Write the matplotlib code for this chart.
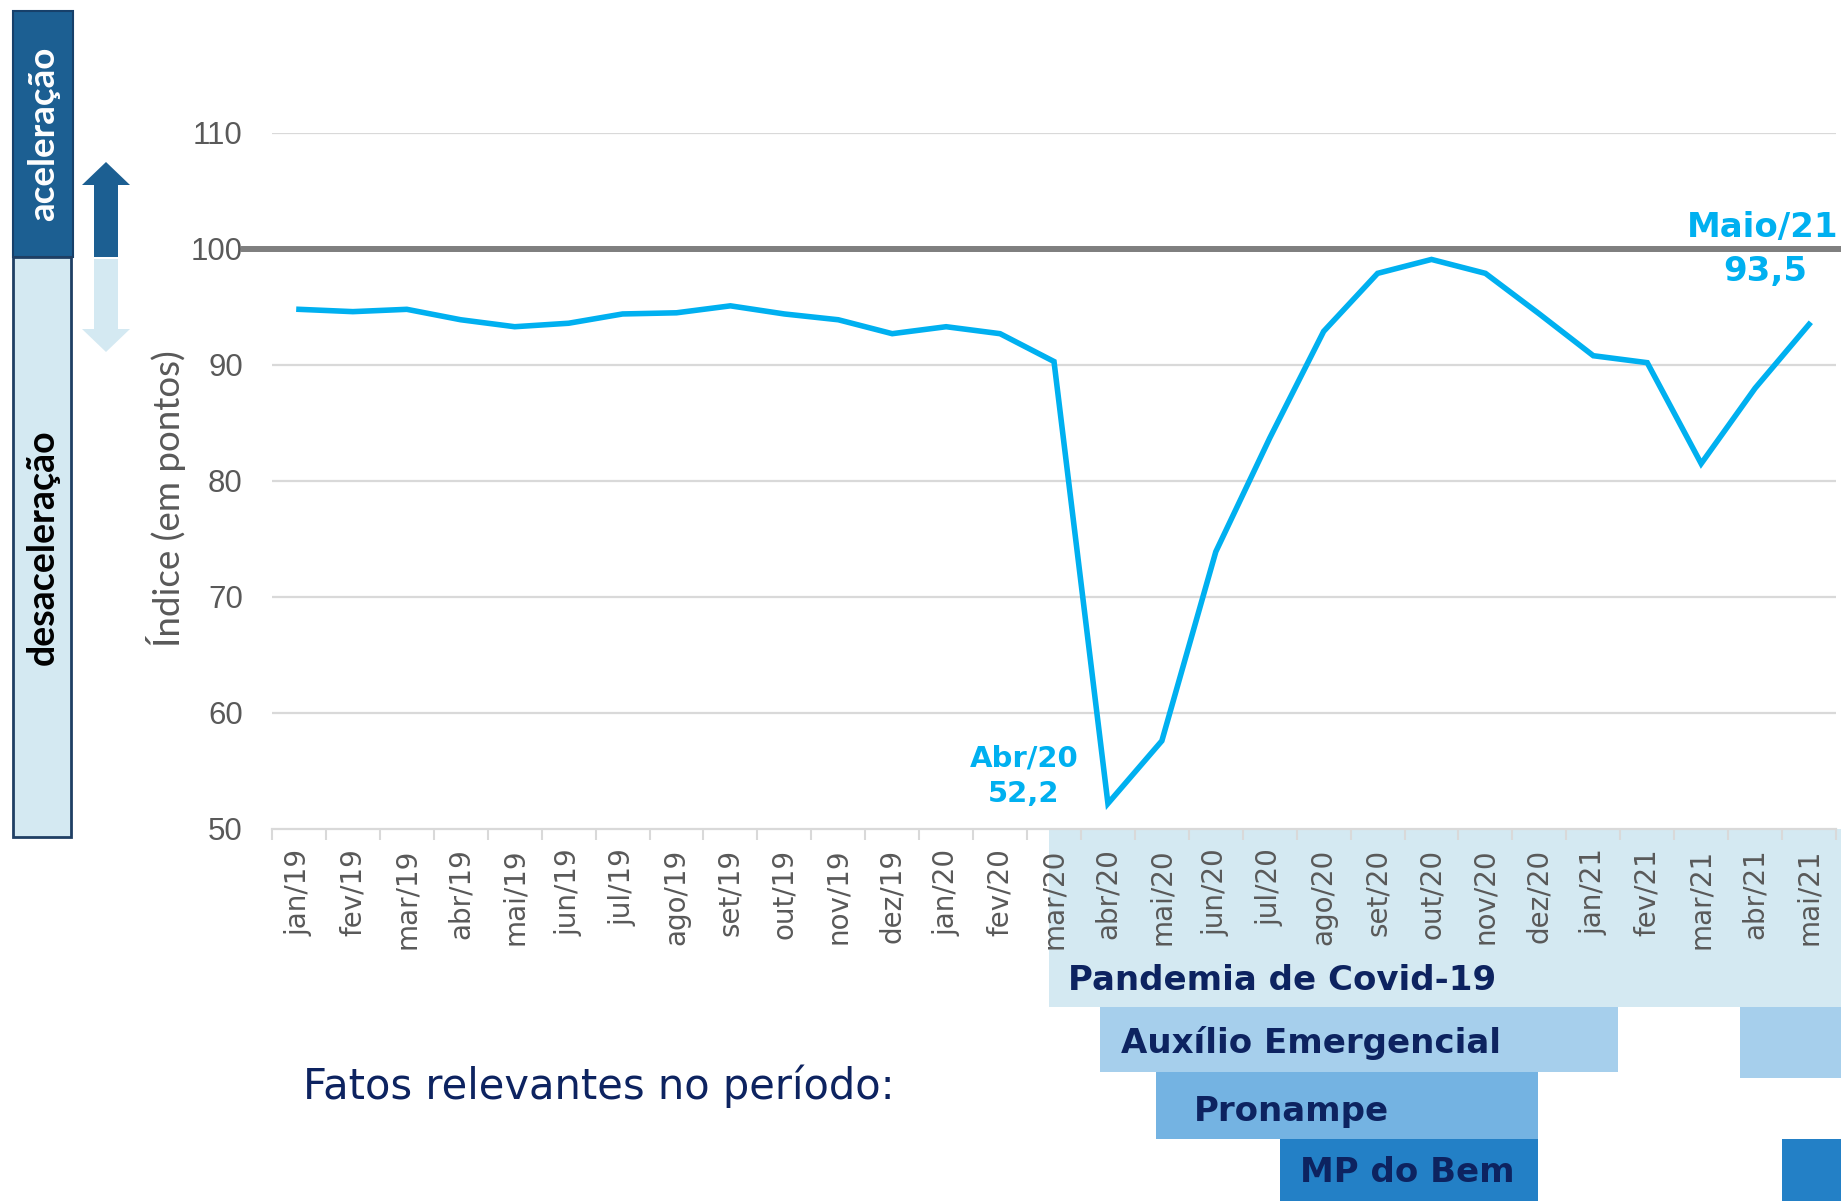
import matplotlib
matplotlib.use("Agg")
import matplotlib.pyplot as plt
import matplotlib.transforms as mtransforms
from matplotlib.patches import Rectangle, Polygon

# ---------------- data ----------------
months = ["jan/19", "fev/19", "mar/19", "abr/19", "mai/19", "jun/19", "jul/19", "ago/19",
          "set/19", "out/19", "nov/19", "dez/19", "jan/20", "fev/20", "mar/20", "abr/20",
          "mai/20", "jun/20", "jul/20", "ago/20", "set/20", "out/20", "nov/20", "dez/20",
          "jan/21", "fev/21", "mar/21", "abr/21", "mai/21"]
values = [94.8, 94.6, 94.8, 93.9, 93.3, 93.6, 94.4, 94.5,
          95.1, 94.4, 93.9, 92.7, 93.3, 92.7, 90.3, 52.2,
          57.6, 73.9, 83.7, 92.9, 97.9, 99.1, 97.9, 94.4,
          90.8, 90.2, 81.5, 88.0, 93.5]
yticks = [50, 60, 70, 80, 90, 100, 110]
reference_level = 100

# relevant facts: (label, list of (start, end) in month-index units)
fact_labels = ["Pandemia de Covid-19", "Auxílio Emergencial", "Pronampe", "MP do Bem"]
fact_periods = [[(13.9, 29.0)],
                [(14.85, 24.46), (26.72, 29.0)],
                [(15.89, 22.97)],
                [(18.19, 22.97), (27.5, 29.0)]]
fact_colors = ["#d4e9f2", "#a6cfec", "#74b3e2", "#2380c6"]

W, H = 1841, 1201
def fx(px):
    return px / W
def fy(py):
    return 1 - py / H

LINE = "#00b0f0"
GRAY = "#595959"
NAVY = "#0d2360"

fig = plt.figure(figsize=(W / 100, H / 100), dpi=100)
ax = fig.add_axes([fx(272), fy(829), fx(1836) - fx(272), fy(133) - fy(829)])
ax.patch.set_alpha(0)

x = list(range(len(months)))
ax.set_xlim(-0.5, len(months) - 0.5)
ax.set_ylim(min(yticks), max(yticks))

# grid
for yv in yticks[1:]:
    if yv != reference_level:
        ax.axhline(yv, color="#d9d9d9", lw=1.6, zorder=1)
ax.axhline(reference_level, xmin=(244 - 272) / (1836 - 272), xmax=1.01,
           color="#7f7f7f", lw=4.3, zorder=2, clip_on=False)

ax.plot(x, values, color=LINE, lw=4.0, zorder=3, solid_joinstyle="miter")

for s in ["top", "right", "left"]:
    ax.spines[s].set_visible(False)
ax.spines["bottom"].set_color("#d9d9d9")
ax.spines["bottom"].set_linewidth(1.6)

ax.set_yticks(yticks)
ax.set_yticklabels([str(v) for v in yticks], fontsize=22.5, color=GRAY,
                   family="Liberation Sans")
ax.tick_params(axis="y", length=0, pad=21)

ax.set_xticks(x)
ax.set_xticklabels(months, rotation=90, fontsize=20, color=GRAY, family="DejaVu Sans")
ax.set_xticks([i - 0.5 for i in range(len(months) + 1)], minor=True)
ax.tick_params(axis="x", which="major", length=0, pad=14)
ax.tick_params(axis="x", which="minor", length=8, color="#d9d9d9", width=1.5)

ax.set_ylabel("Índice (em pontos)", fontsize=26.5, color=GRAY, family="Lato")
ax.yaxis.set_label_coords(fx(186), fy(499), transform=fig.transFigure)

# annotations
ax.text(13.44, 56.1, "Abr/20", color=LINE, fontsize=21, fontweight="bold",
        ha="center", va="center", family="DejaVu Sans")
ax.text(13.44, 53.0, "52,2", color=LINE, fontsize=21, fontweight="bold",
        ha="center", va="center", family="DejaVu Sans")
fig.text(fx(1763), fy(227), "Maio/21", color=LINE, fontsize=24.5, fontweight="bold",
         ha="center", va="center", family="DejaVu Sans")
fig.text(fx(1765), fy(272), "93,5", color=LINE, fontsize=24.5, fontweight="bold",
         ha="center", va="center", family="DejaVu Sans")

# fact bands
blend = mtransforms.blended_transform_factory(ax.transData, fig.transFigure)
band_y = [(829, 1007), (1007, 1072), (1072, 1139), (1139, 1201)]
band_y_extra = [(829, 1007), (1007, 1078), (1072, 1139), (1139, 1201)]
for k, (periods, col) in enumerate(zip(fact_periods, fact_colors)):
    for j, (a, b) in enumerate(periods):
        y0, y1 = band_y[k] if j == 0 else band_y_extra[k]
        r = Rectangle((a, fy(y1)), b - a, fy(y0) - fy(y1), transform=blend,
                      facecolor=col, edgecolor="none", zorder=-5, clip_on=False)
        fig.add_artist(r)

label_pos = [(1068, 980), (1121, 1043), (1194, 1111), (1300, 1173)]
for lab, (px, py) in zip(fact_labels, label_pos):
    fig.text(fx(px), fy(py), lab, color=NAVY, fontsize=24.5, fontweight="bold",
             ha="left", va="center", family="DejaVu Sans")

fig.text(fx(303), fy(1086), "Fatos relevantes no período:", color=NAVY, fontsize=30,
         ha="left", va="center", family="DejaVu Sans")

# left side boxes
fig.add_artist(Rectangle((fx(13), fy(257)), fx(73) - fx(13), fy(11) - fy(257),
                         transform=fig.transFigure, facecolor="#1c5f92",
                         edgecolor="#17406a", lw=1.5))
fig.add_artist(Rectangle((fx(13), fy(837)), fx(71) - fx(13), fy(257) - fy(837),
                         transform=fig.transFigure, facecolor="#d4e9f2",
                         edgecolor="#1f3f64", lw=2))
fig.text(fx(44), fy(134), "aceleração", rotation=90, color="white", fontsize=26.5,
         fontweight="bold", ha="center", va="center", family="Lato")
fig.text(fx(43), fy(547), "desaceleração", rotation=90, color="black", fontsize=27,
         fontweight="bold", ha="center", va="center", family="Lato")

# arrows
up = [(94, 257), (94, 185), (82, 185), (106, 162), (130, 185), (118, 185), (118, 257)]
down = [(94, 259), (94, 329), (82, 329), (106, 352), (130, 329), (118, 329), (118, 259)]
fig.add_artist(Polygon([(fx(a), fy(b)) for a, b in up], closed=True,
                       transform=fig.transFigure, facecolor="#1c5f92", edgecolor="none"))
fig.add_artist(Polygon([(fx(a), fy(b)) for a, b in down], closed=True,
                       transform=fig.transFigure, facecolor="#d4e9f2", edgecolor="none"))

fig.savefig("out.png", dpi=100)
